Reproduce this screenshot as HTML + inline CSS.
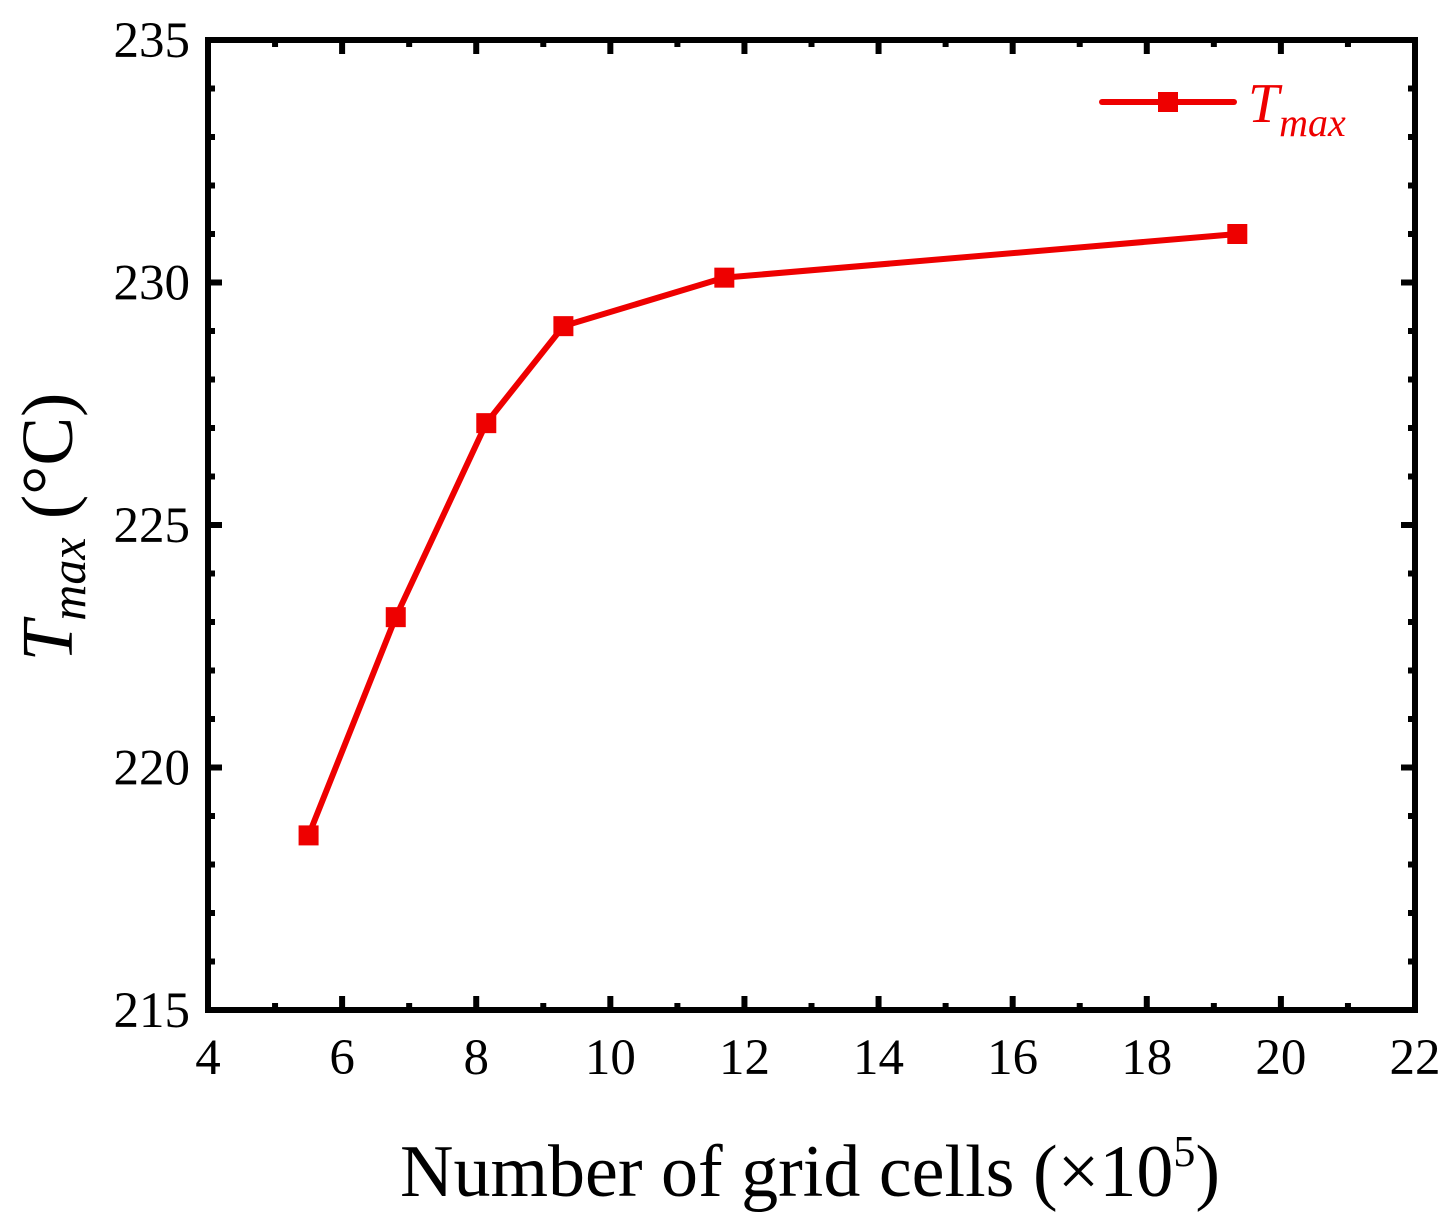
<!DOCTYPE html>
<html><head><meta charset="utf-8"><style>
body{margin:0;background:#fff;}
text{font-family:"Liberation Serif",serif;}
</style></head><body>
<svg width="1451" height="1220">
<g id="ticks"></g>
<polyline id="line" fill="none" stroke="#ee0000" stroke-width="6" stroke-linejoin="round"/>
<g id="marks"></g>
<rect x="208" y="40" width="1207" height="970" fill="none" stroke="#000" stroke-width="6"/>
<g>
<line x1="1102" y1="102" x2="1234" y2="102" stroke="#ee0000" stroke-width="6" stroke-linecap="round"/>
<rect x="1158" y="92" width="20" height="20" fill="#ee0000"/>
<text x="1248" y="122" font-size="56" font-style="italic" fill="#ee0000">T<tspan font-size="40" dy="14">max</tspan></text>
</g>
<text x="810" y="1196" font-size="74" text-anchor="middle">Number of grid cells (×10<tspan font-size="44" dy="-30">5</tspan><tspan dy="30">)</tspan></text>
<text transform="translate(72,527) rotate(-90)" font-size="73" text-anchor="middle"><tspan font-style="italic">T</tspan><tspan font-style="italic" font-size="50" dy="13">max</tspan><tspan dy="-13"> (°C)</tspan></text>
</svg>
<script>
const xValues=[5.5,6.8,8.15,9.3,11.7,19.35];
const yValues=[218.6,223.1,227.1,229.1,230.1,231.0];
const xTicks=[4,6,8,10,12,14,16,18,20,22];
const yTicks=[215,220,225,230,235];
const X=v=>208+(v-4)*(1207/18);
const Y=v=>1010-(v-215)*(970/20);
const NS="http://www.w3.org/2000/svg";
const tk=document.getElementById('ticks');
function ln(x1,y1,x2,y2,name){const l=document.createElementNS(NS,'line');l.setAttribute('x1',x1);l.setAttribute('y1',y1);l.setAttribute('x2',x2);l.setAttribute('y2',y2);l.setAttribute('stroke','#000');l.setAttribute('stroke-width',6);


tk.appendChild(l);}
function tx(x,y,s,anchor,name){const t=document.createElementNS(NS,'text');t.setAttribute('x',x);t.setAttribute('y',y);t.setAttribute('font-size',51);t.setAttribute('text-anchor',anchor);t.textContent=s;


tk.appendChild(t);}
for(let v=4;v<=22;v++){const x=X(v),L=(v%2==0)?14:7;ln(x,1010,x,1010-L,'x-tick');ln(x,40,x,40+L,'x-tick-top');}
for(let v=215;v<=235;v++){const y=Y(v),L=(v%5==0)?14:7;ln(208,y,208+L,y,'y-tick');ln(1415,y,1415-L,y,'y-tick-right');}
xTicks.forEach(v=>tx(X(v),1074,v,'middle','x-tick-label'));
yTicks.forEach(v=>tx(190,Y(v)+17,v,'end','y-tick-label'));
document.getElementById('line').setAttribute('points',xValues.map((x,i)=>X(x)+','+Y(yValues[i])).join(' '));
const mk=document.getElementById('marks');
xValues.forEach((x,i)=>{const r=document.createElementNS(NS,'rect');r.setAttribute('x',X(x)-10);r.setAttribute('y',Y(yValues[i])-10);r.setAttribute('width',20);r.setAttribute('height',20);r.setAttribute('fill','#ee0000');


mk.appendChild(r);});
</script>
</body></html>
